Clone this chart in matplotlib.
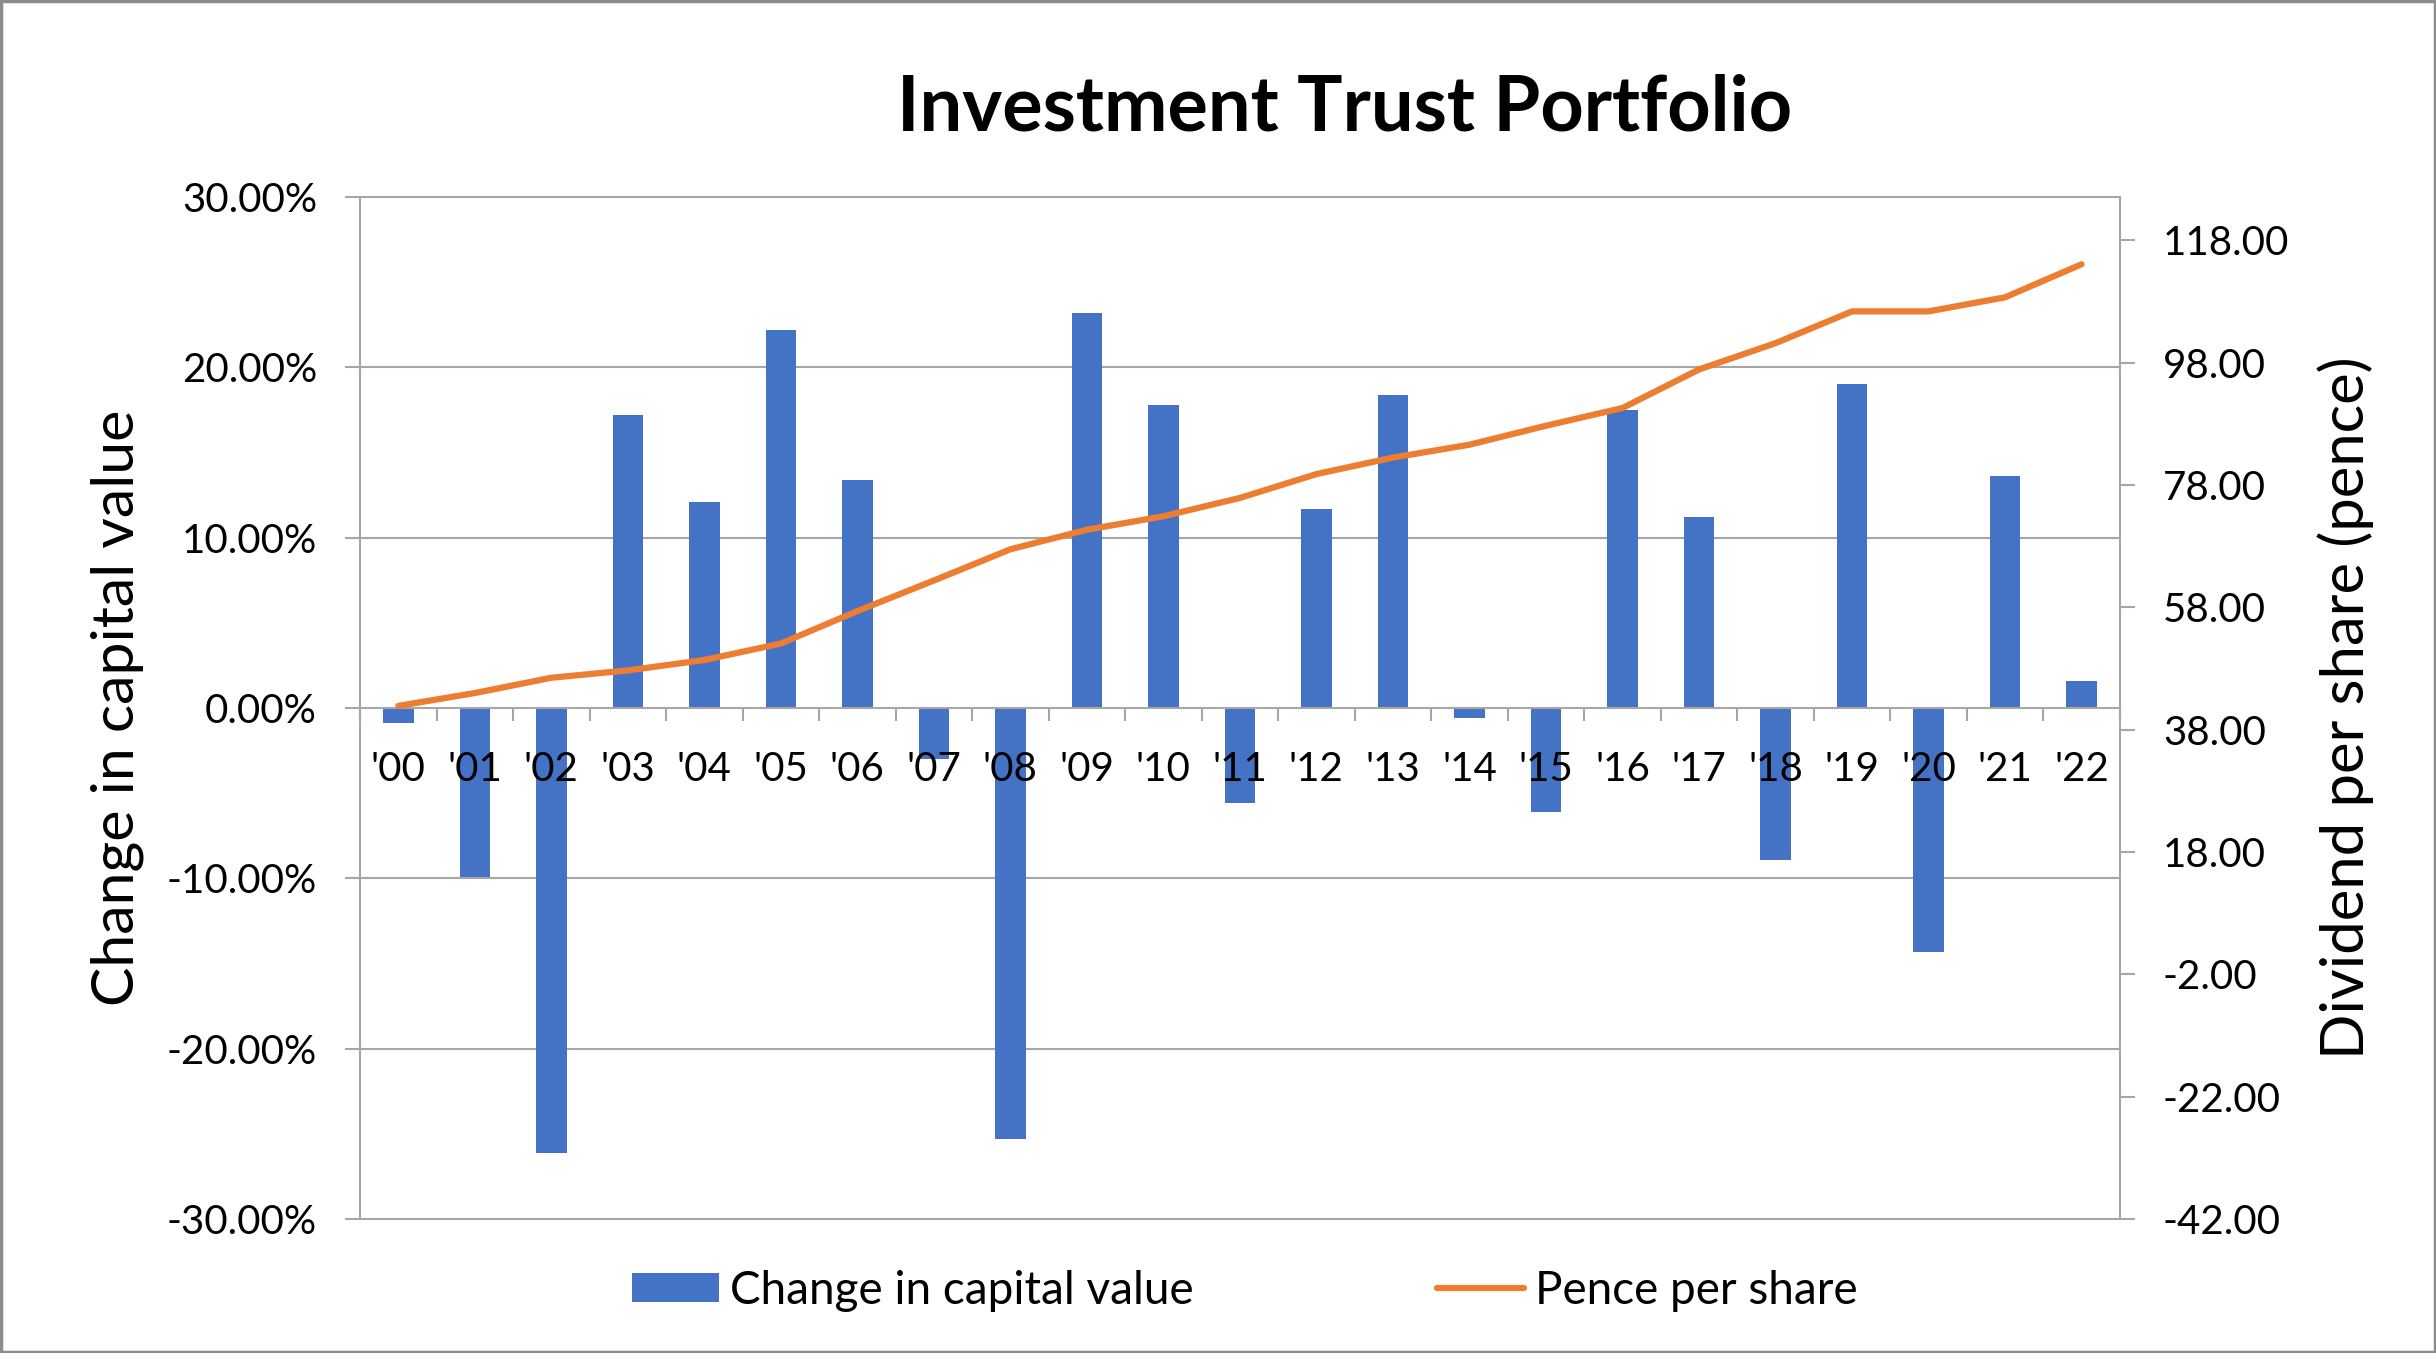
import numpy as np
import matplotlib
matplotlib.use('Agg')
import matplotlib.pyplot as plt
from matplotlib.patches import Rectangle

plt.rcParams['font.family'] = ['Lato', 'DejaVu Sans']

# data
years = ["'00", "'01", "'02", "'03", "'04", "'05", "'06", "'07", "'08", "'09", "'10", "'11",
         "'12", "'13", "'14", "'15", "'16", "'17", "'18", "'19", "'20", "'21", "'22"]
capital_change = [-0.9, -9.9, -26.1, 17.2, 12.1, 22.2, 13.4, -3.0, -25.3, 23.2, 17.8, -5.6,
                  11.7, 18.4, -0.6, -6.1, 17.5, 11.2, -8.9, 19.0, -14.3, 13.6, 1.6]
pence = [41.9, 44.0, 46.5, 47.7, 49.4, 52.1, 57.4, 62.4, 67.5, 70.7, 72.9, 75.9,
         79.8, 82.5, 84.6, 87.7, 90.6, 96.9, 101.2, 106.4, 106.4, 108.7, 114.1]
left_ticks = [-30, -20, -10, 0, 10, 20, 30]
right_ticks = [-42, -22, -2, 18, 38, 58, 78, 98, 118]

bar_col = '#4472C4'
line_col = '#ED7D31'
grid_col = '#A6A6A6'

fig = plt.figure(figsize=(24.36, 13.53), dpi=100)
ax = fig.add_axes([0.1478, 0.0990, 0.8702 - 0.1478, 0.8544 - 0.0990])
x = np.arange(len(years))

# gridlines drawn by hand so they sit under the bars
for t in left_ticks:
    if t != 0:
        ax.axhline(t, color=grid_col, lw=1.5, zorder=0, clip_on=False)

bars = ax.bar(x, capital_change, width=0.4, color=bar_col, zorder=1, label='Change in capital value')

ax.set_xlim(-0.5, len(years) - 0.5)
ax.set_ylim(-30, 30)
ax.set_yticks(left_ticks)
ax.set_yticklabels(['{:.2f}%'.format(t) for t in left_ticks])

ax.spines['top'].set_visible(False)
ax.spines['right'].set_visible(False)
ax.spines['left'].set_color(grid_col)
ax.spines['left'].set_linewidth(1.5)
ax.spines['bottom'].set_position(('data', 0))
ax.spines['bottom'].set_color(grid_col)
ax.spines['bottom'].set_linewidth(1.5)

ax.set_xticks(x)
ax.set_xticklabels(years)
ax.set_xticks(np.arange(-0.5, len(years)), minor=True)
ax.tick_params(axis='x', which='major', length=0, pad=31, labelsize=29)
ax.tick_params(axis='x', which='minor', length=9, width=1.5, color=grid_col, direction='out')
ax.tick_params(axis='y', length=11, width=1.5, color=grid_col, pad=20, labelsize=29)

ax.set_ylabel('Change in capital value', fontsize=42.5)
ax.yaxis.set_label_coords(-0.123, 0.5)

# secondary axis for dividends
ax2 = ax.twinx()
line, = ax2.plot(x, pence, color=line_col, lw=4.5, solid_capstyle='round', label='Pence per share')
ax2.set_ylim(-42, 125.1)
ax2.set_yticks(right_ticks)
ax2.set_yticklabels(['{:.2f}'.format(t) for t in right_ticks])
for s in ['top', 'left', 'bottom']:
    ax2.spines[s].set_visible(False)
ax2.spines['right'].set_color(grid_col)
ax2.spines['right'].set_linewidth(1.5)
ax2.tick_params(axis='y', length=11, width=1.5, color=grid_col, pad=20, labelsize=29)
ax2.set_ylabel('Dividend per share (pence)', fontsize=43)
ax2.yaxis.set_label_coords(1.112, 0.5)

fig.text(0.552, 0.92, 'Investment Trust Portfolio', ha='center', va='center',
         fontsize=54.5, fontweight='bold')

fig.legend(handles=[bars, line], loc='center', bbox_to_anchor=(0.511, 0.046), ncol=2,
           frameon=False, fontsize=33, handlelength=1.9, handleheight=0.6,
           handletextpad=0.25, columnspacing=5.3)

fig.patches.append(Rectangle((0.0005, 0.0008), 0.999, 0.9985, transform=fig.transFigure,
                             fill=False, edgecolor='#8C8C8C', lw=2.5))

fig.savefig('out.png', dpi=100)
